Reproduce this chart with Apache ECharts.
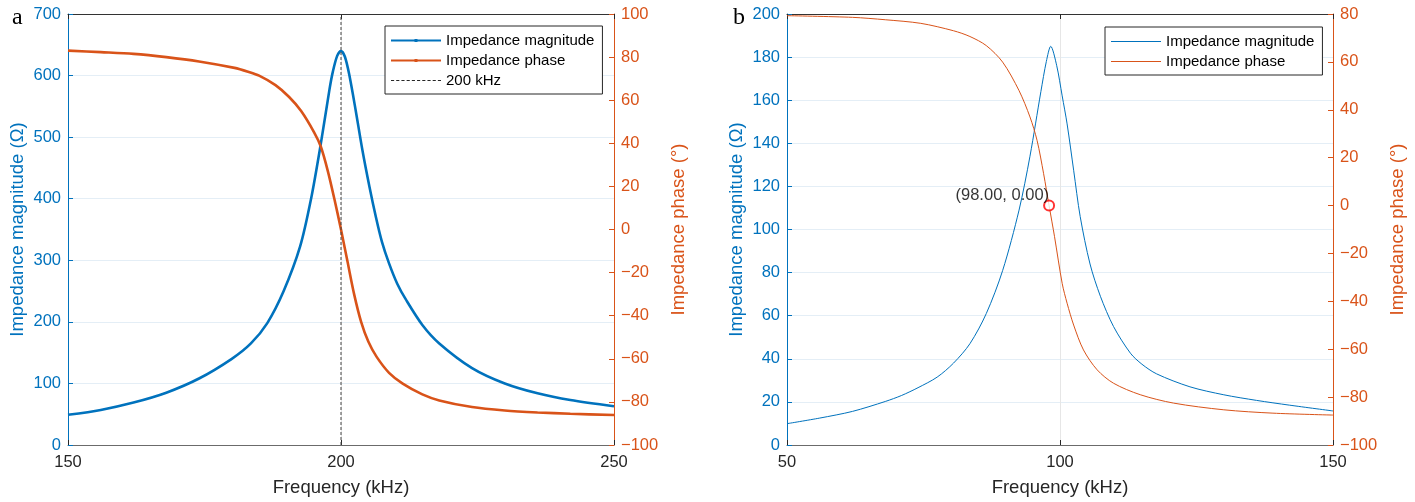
<!DOCTYPE html>
<html><head><meta charset="utf-8">
<script src="https://cdn.jsdelivr.net/npm/echarts@6/dist/echarts.min.js"></script>
<style>html,body{margin:0;padding:0;background:#fff}#c{width:1415px;height:502px}</style>
</head><body><div id="c"></div>
<script>
// ---- Panel a data ----
const magFreqA = [150,156,162,168,174,180,183.5,186.5,189.5,192.5,194.5,196.3,197.9,198.5,199.3,200,200.7,201.5,202.7,203.9,205.2,206.4,207.5,208.8,210.3,211.9,214.9,218,224,230,236,242,250];
const magA     = [49,57,69,85,108,140,165,198,250,322,399,489,578,606,632,640,631,602,543,480,420,370,330,295,262,236,195,165,125,100,84,73,63];
const phaseFreqA = [150,156,162,168,174,180.5,183,185,188,190.5,192.7,195.1,196.3,197.6,198.8,200,201.2,202.4,203.7,205,206.5,208.8,211.3,214.9,218,224,230,236,242,250];
const phaseA     = [83,82.3,81.5,80,78,75,73.2,71.4,67,61.5,55,45,38.5,27,14,0,-15,-30,-43,-52,-59,-66.5,-71.5,-76.5,-79.3,-82.4,-84,-84.9,-85.5,-86.1];
const refFreqA = 200;
const refYA = [0, 700];

// ---- Panel b data ----
const magFreqB = [50,56,62,68,71,74,77.5,80.5,83.5,86.5,89.5,92.5,94.5,96.5,97.5,98.3,99.4,100.4,101.3,102.5,103.7,105.5,107.4,109.8,112.9,115,117.7,123.8,130,136,142,150];
const magB     = [9.9,12.5,15.6,20.2,23,26.6,31.5,38,47,61,81,109,134,164,178,185,176,162,149,127.5,106,84,69,55,42.6,37.5,33,27,23.3,20.7,18.5,15.8];
const phaseFreqB = [50,62,68,74.5,80.5,83.5,86.5,89.5,92.5,94.5,95.8,97,98,99,100.4,101.3,102.5,104.3,106.8,109.8,114.7,120.8,130,139,150];
const phaseB     = [79.3,78.6,77.6,76.1,73,70.6,66.8,59.9,48,37,27.2,13.3,0,-13,-32.5,-40.8,-49.9,-60.3,-68.6,-74.2,-79,-82.5,-85.3,-86.7,-87.5];
const markB = [98, 0];

// ---- Axis ranges / labels ----
const xRangeA = [150, 250, 50];
const xRangeB = [50, 150, 50];
const magRangeA = [0, 700, 100];
const magRangeB = [0, 200, 20];
const phaseRangeA = [-100, 100, 20];
const phaseRangeB = [-100, 80, 20];
const xName = 'Frequency (kHz)';
const magName = 'Impedance magnitude (Ω)';
const phaseName = 'Impedance phase (°)';
const nameMag = 'Impedance magnitude';
const namePhase = 'Impedance phase';
const nameRef = '200 kHz';
const panelLabels = ['a', 'b'];

const BLUE = '#0072BD', ORANGE = '#D95319', DARK = '#262626';
const FONT = '"Liberation Sans", Arial, Helvetica, sans-serif';
const minus = v => String(v).replace('-', '\u2212');
const pairs = (xs, ys) => xs.map((x, i) => [x, ys[i]]);

function xAxes(grid, r) {
  return [{
    gridIndex: grid, type: 'value', min: r[0], max: r[1], interval: r[2], position: 'bottom',
    axisLine: { onZero: false, lineStyle: { color: '#6b6b6b', width: 1 } },
    axisTick: { inside: true, length: 5, lineStyle: { color: DARK } },
    axisLabel: { color: DARK, fontSize: 16.5, fontFamily: FONT, margin: 9 },
    splitLine: { show: true, lineStyle: { color: '#e6e6e6', width: 1 } },
    name: xName, nameLocation: 'middle', nameGap: 33,
    nameTextStyle: { color: DARK, fontSize: 18.5, fontFamily: FONT }
  }, {
    gridIndex: grid, type: 'value', min: r[0], max: r[1], interval: r[2], position: 'top',
    axisLine: { onZero: false, lineStyle: { color: '#333', width: 1 } },
    axisTick: { inside: true, length: 5, lineStyle: { color: DARK } },
    axisLabel: { show: false }, splitLine: { show: false }
  }];
}
function yAxes(grid, rm, rp) {
  return [{
    gridIndex: grid, type: 'value', min: rm[0], max: rm[1], interval: rm[2], position: 'left',
    axisLine: { show: true, onZero: false, lineStyle: { color: BLUE, width: 1 } },
    axisTick: { show: true, inside: true, length: 5, lineStyle: { color: BLUE } },
    axisLabel: { color: BLUE, fontSize: 16.5, fontFamily: FONT, margin: 7, formatter: minus },
    splitLine: { show: true, lineStyle: { color: '#e4eef6', width: 1 } },
    name: magName, nameLocation: 'middle', nameGap: 41, nameRotate: 90,
    nameTextStyle: { color: BLUE, fontSize: 18.5, fontFamily: FONT }
  }, {
    gridIndex: grid, type: 'value', min: rp[0], max: rp[1], interval: rp[2], position: 'right',
    axisLine: { show: true, onZero: false, lineStyle: { color: ORANGE, width: 1 } },
    axisTick: { show: true, inside: true, length: 5, lineStyle: { color: ORANGE } },
    axisLabel: { color: ORANGE, fontSize: 16.5, fontFamily: FONT, margin: 7, formatter: minus },
    splitLine: { show: false },
    name: phaseName, nameLocation: 'middle', nameGap: 55, nameRotate: 90,
    nameTextStyle: { color: ORANGE, fontSize: 18.5, fontFamily: FONT }
  }];
}

function dashPath() {
  let p = 'path://';
  for (let x = 0; x < 50; x += 5) p += `M${x},0H${Math.min(x + 3, 50)}V1H${x}Z`;
  return p;
}
const thickIcon = 'path://M0,0.5H23.5V0H26.5V0.5H50V2.5H26.5V3H23.5V2.5H0Z';
const thinIcon = 'path://M0,0H50V1H0Z';
const SUFFIX_B = ' \u200b';

const legendCommon = {
  orient: 'vertical', backgroundColor: '#fff', borderColor: DARK, borderWidth: 1,
  itemWidth: 50, itemHeight: 14, itemGap: 3, padding: [6, 8, 5, 6],
  itemStyle: { borderWidth: 0 },
  textStyle: { color: '#000', fontSize: 15, fontFamily: FONT, lineHeight: 17 },
  selectedMode: false
};

const option = {
  animation: false,
  backgroundColor: '#fff',
  grid: [
    { left: 68, top: 14, width: 546, height: 432, containLabel: false },
    { left: 787, top: 14, width: 546, height: 432, containLabel: false }
  ],
  xAxis: [...xAxes(0, xRangeA), ...xAxes(1, xRangeB)],
  yAxis: [...yAxes(0, magRangeA, phaseRangeA), ...yAxes(1, magRangeB, phaseRangeB)],
  legend: [
    Object.assign({}, legendCommon, {
      left: 385, top: 26,
      data: [
        { name: nameMag, icon: thickIcon },
        { name: namePhase, icon: thickIcon },
        { name: nameRef, icon: dashPath() }
      ]
    }),
    Object.assign({}, legendCommon, {
      left: 1105, top: 27,
      formatter: n => n.replace(SUFFIX_B, ''),
      data: [
        { name: nameMag + SUFFIX_B, icon: thinIcon },
        { name: namePhase + SUFFIX_B, icon: thinIcon }
      ]
    })
  ],
  graphic: [
    { type: 'text', x: 12, y: 18, style: { text: panelLabels[0], font: '24px "Liberation Serif", "Times New Roman", serif', fill: '#000', verticalAlign: 'middle' } },
    { type: 'text', x: 733, y: 18, style: { text: panelLabels[1], font: '24px "Liberation Serif", "Times New Roman", serif', fill: '#000', verticalAlign: 'middle' } }
  ],
  series: [
    { name: nameMag, type: 'line', xAxisIndex: 0, yAxisIndex: 0, data: pairs(magFreqA, magA),
      smooth: 0.3, showSymbol: false, symbol: 'none', color: BLUE,
      lineStyle: { color: BLUE, width: 2.6 }, z: 3 },
    { name: namePhase, type: 'line', xAxisIndex: 0, yAxisIndex: 1, data: pairs(phaseFreqA, phaseA),
      smooth: 0.3, showSymbol: false, symbol: 'none', color: ORANGE,
      lineStyle: { color: ORANGE, width: 2.6 }, z: 3 },
    { name: nameRef, type: 'line', xAxisIndex: 0, yAxisIndex: 0, data: refYA.map(y => [refFreqA, y]),
      showSymbol: false, symbol: 'none', color: DARK,
      lineStyle: { color: '#444', width: 1, type: [3, 2] }, z: 4 },
    { name: nameMag + SUFFIX_B, type: 'line', xAxisIndex: 2, yAxisIndex: 2, data: pairs(magFreqB, magB),
      smooth: 0.3, showSymbol: false, symbol: 'none', color: BLUE,
      lineStyle: { color: BLUE, width: 1 }, z: 3 },
    { name: namePhase + SUFFIX_B, type: 'line', xAxisIndex: 2, yAxisIndex: 3, data: pairs(phaseFreqB, phaseB),
      smooth: 0.3, showSymbol: false, symbol: 'none', color: ORANGE,
      lineStyle: { color: ORANGE, width: 1 }, z: 3 },
    { name: 'marker', type: 'scatter', xAxisIndex: 2, yAxisIndex: 3, data: [markB],
      symbol: 'emptyCircle', symbolSize: 10,
      itemStyle: { color: '#ff0000', borderColor: '#ff0000', borderWidth: 1 },
      label: { show: true, position: 'left', distance: 0, offset: [6, -10], color: '#000',
        fontSize: 16.5, fontFamily: FONT,
        formatter: p => `(${p.value[0].toFixed(2)}, ${p.value[1].toFixed(2)})` }, z: 5 }
  ]
};
echarts.init(document.getElementById('c'), null, { renderer: 'canvas' }).setOption(option);
</script></body></html>
